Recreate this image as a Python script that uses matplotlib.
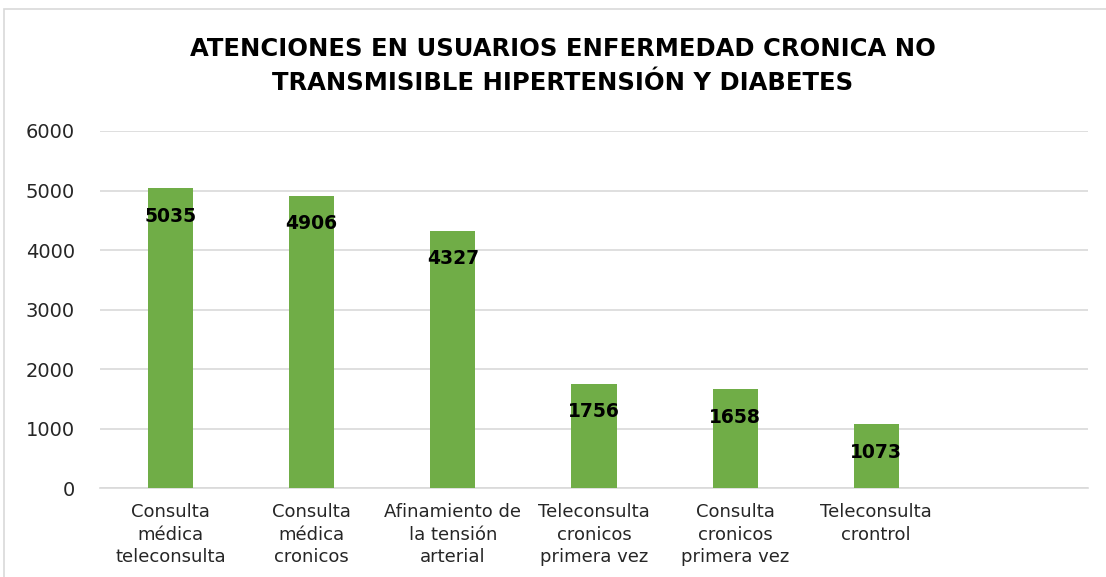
import matplotlib.pyplot as plt
from matplotlib.patches import Rectangle

# data
categorias = [
    "Consulta\nmédica\nteleconsulta",
    "Consulta\nmédica\ncronicos",
    "Afinamiento de\nla tensión\narterial",
    "Teleconsulta\ncronicos\nprimera vez",
    "Consulta\ncronicos\nprimera vez",
    "Teleconsulta\ncrontrol",
    "",
]
atenciones = [5035, 4906, 4327, 1756, 1658, 1073, 0]
y_ticks = [0, 1000, 2000, 3000, 4000, 5000, 6000]

plt.rcParams['font.family'] = ['DejaVu Sans']

fig = plt.figure(figsize=(11.06, 5.77), dpi=100)
ax = fig.add_axes([0.0904, 0.154, 0.8933, 0.619])

x = list(range(len(categorias)))
bars = ax.bar(x, atenciones, width=0.32, color='#70AD47', zorder=3)

# value labels inside the top of each bar (skip the empty slot)
for xi, v in zip(x, atenciones):
    if v == 0:
        continue
    ax.annotate(str(v), (xi, v), xytext=(0, -20), textcoords='offset points',
                ha='center', va='center', fontsize=13.5, fontweight='bold',
                color='black', zorder=4)

ax.set_xlim(-0.5, len(categorias) - 0.5)
ax.set_ylim(0, 6000)
ax.set_yticks(y_ticks)
ax.set_xticks(x)
ax.set_xticklabels(categorias, fontsize=13, color='#262626', linespacing=1.32)
ax.tick_params(axis='y', length=0, pad=18, labelsize=14, labelcolor='#262626')
ax.tick_params(axis='x', length=0, pad=11)

ax.grid(axis='y', color='#D9D9D9', linewidth=1.2, zorder=0)
for side in ['top', 'right', 'left']:
    ax.spines[side].set_visible(False)
ax.spines['bottom'].set_color('#D9D9D9')
ax.spines['bottom'].set_linewidth(1.2)

fig.text(0.509, 0.886, "ATENCIONES EN USUARIOS ENFERMEDAD CRONICA NO\nTRANSMISIBLE HIPERTENSIÓN Y DIABETES",
         ha='center', va='center', fontsize=17.5, fontweight='bold',
         color='black', linespacing=1.55)

# light chart-area border (cropped on right/bottom in the reference)
fig.patches.append(Rectangle((4 / 1106, -0.1), 1.2, 1 - 9 / 577 + 0.1,
                             transform=fig.transFigure, fill=False,
                             edgecolor='#D9D9D9', linewidth=1.2))

fig.savefig('out.png', dpi=100)
